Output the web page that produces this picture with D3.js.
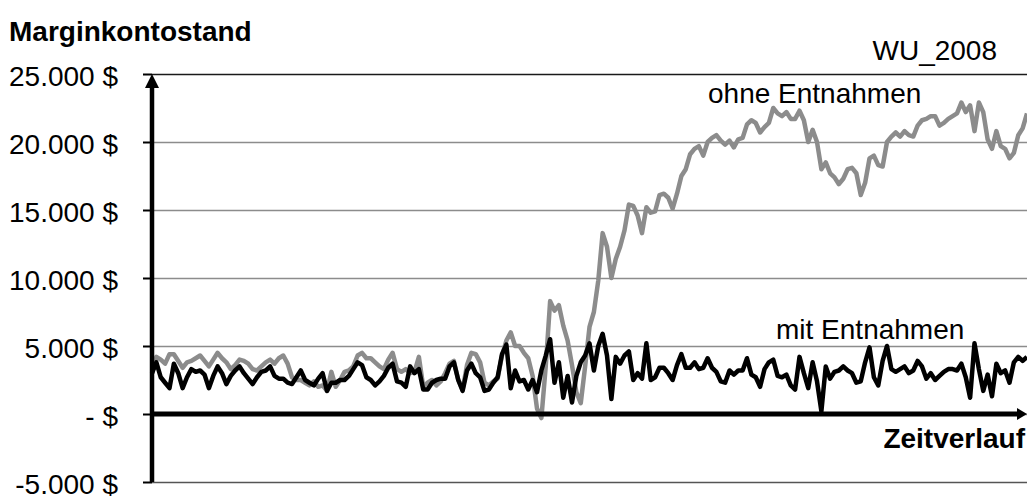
<!DOCTYPE html>
<html>
<head>
<meta charset="utf-8">
<script src="https://cdn.jsdelivr.net/npm/d3@7"></script>
<style>
  html, body { margin: 0; padding: 0; background: #fff; }
  svg { display: block; font-family: "Liberation Sans", Arial, sans-serif; }
</style>
</head>
<body>
<svg id="chart" width="1027" height="496"></svg>
<script>
// Margin account balance over time, with and without withdrawals
const ohneEntnahmen = [
  3000, 4200, 4000, 3700, 4400, 4400, 3900, 3400, 3800, 3900,
  4100, 4300, 3900, 3500, 4000, 4500, 4100, 3800, 3300, 3600,
  4000, 3900, 3700, 3300, 3200, 3500, 3800, 4000, 3700, 4100,
  4300, 3700, 2700, 2500, 2500, 2300, 2100, 2400, 2000, 2100,
  1700, 3100, 2000, 2500, 3100, 3200, 3500, 4300, 4500, 4100,
  4100, 3800, 3500, 3300, 4000, 4500, 3300, 3100, 3300, 3000,
  3100, 4200, 2000, 2300, 2500, 2100, 2400, 3000, 3700, 3900,
  2500, 1800, 3600, 4500, 4400, 3800, 2300, 2100, 2400, 2600,
  4300, 5400, 6000, 5000, 5000, 4500, 4100, 2800, 400, -300,
  3500, 8300, 7600, 8000, 6500, 5400, 3600, 1600, 800, 3500,
  6400, 7500, 9800, 13300, 12300, 10000, 11400, 12300, 13500, 15400,
  15300, 14600, 13300, 15200, 14800, 14900, 16100, 16200, 15900, 15100,
  16200, 17500, 18000, 19100, 19500, 19700, 19000, 20000, 20300, 20500,
  20100, 19800, 20100, 19600, 20200, 20300, 21300, 21600, 21400, 20700,
  21100, 21400, 22500, 22100, 21900, 22200, 21700, 21700, 22300, 21600,
  20000, 20900, 20000, 18000, 18500, 17700, 17400, 16900, 17300, 18000,
  18100, 17700, 16100, 17000, 18800, 19000, 18300, 18200, 20000, 20400,
  20700, 20400, 20800, 20500, 20400, 21200, 21600, 21700, 21900, 21900,
  21200, 21400, 21700, 21900, 22100, 22900, 22200, 22700, 20800, 22900,
  22200, 20200, 19500, 20800, 19700, 19500, 18800, 19200, 20500, 21000,
  22100
];

const mitEntnahmen = [
  3000, 3800, 2700, 2300, 1900, 3700, 3000, 1900, 2700, 3300,
  3100, 3200, 2900, 1900, 2800, 3500, 3000, 2200, 2800, 3200,
  3500, 3000, 2600, 2200, 2700, 3100, 3200, 3500, 2800, 2600,
  2600, 2300, 2200, 2700, 3200, 2500, 2300, 2100, 2600, 3000,
  1700, 2300, 2300, 2500, 2500, 2800, 3300, 3800, 3600, 2700,
  2500, 2100, 2400, 2800, 3400, 3700, 2400, 2300, 2000, 3500,
  3000, 3300, 1800, 1800, 2300, 2500, 2600, 2600, 3500, 3800,
  2500, 1700, 3200, 3700, 3000, 2700, 1700, 1800, 2300, 2700,
  4400, 5100, 1900, 3200, 2400, 2500, 1800, 2500, 1600, 3200,
  4300, 5500, 2300, 3800, 1200, 2800, 850, 2800, 3800, 4300,
  5200, 3200, 5000, 5900, 4300, 1100, 4200, 3700, 4300, 4600,
  2500, 3000, 2600, 5200, 2500, 2700, 3400, 3400, 3000, 2500,
  3600, 4400, 3400, 3400, 3800, 3300, 3400, 4100, 3400, 3100,
  2400, 2300, 3200, 2900, 3200, 3200, 4100, 2900, 2700, 2000,
  3300, 3800, 4000, 2800, 2700, 2900, 2100, 1800, 4200, 3000,
  1900, 3800, 2400, 200, 3500, 2600, 3100, 3200, 3500, 3200,
  3000, 2300, 2400, 3800, 4900, 2700, 2100, 3900, 5000, 3300,
  3100, 3300, 3500, 3000, 3200, 3900, 3500, 2600, 3000, 2500,
  2800, 3100, 3300, 3300, 3200, 3700, 2700, 1200, 5200, 3300,
  1700, 2900, 1300, 3700, 3000, 3200, 2300, 3800, 4200, 3900,
  4200
];

const yTickValues = [25000, 20000, 15000, 10000, 5000, 0, -5000];
const yTickLabels = ["25.000 $", "20.000 $", "15.000 $", "10.000 $", "5.000 $", "- $", "-5.000 $"];

const svg = d3.select("#chart");
const plot = { left: 152, right: 1027, top: 74, bottom: 482 };

const x = d3.scaleLinear()
  .domain([0, ohneEntnahmen.length - 1])
  .range([plot.left, plot.right]);

const y = d3.scaleLinear()
  .domain([-5000, 25000])
  .range([plot.bottom, plot.top]);

// Horizontal gridlines
const grid = svg.append("g")
  .attr("transform", `translate(${plot.left},0)`)
  .call(d3.axisLeft(y)
    .tickValues(yTickValues)
    .tickSize(-(plot.right - plot.left))
    .tickFormat(""));
grid.select(".domain").remove();
grid.selectAll(".tick line")
  .attr("stroke", d => (d === 25000 ? "#1a1a1a" : d === -5000 ? "#555" : "#8c8c8c"))
  .attr("stroke-width", 1.6);

// Y axis with tick labels
const yAxis = svg.append("g")
  .attr("transform", `translate(${plot.left},0)`)
  .call(d3.axisLeft(y)
    .tickValues(yTickValues)
    .tickSize(9)
    .tickPadding(25)
    .tickFormat((d, i) => yTickLabels[i]));
yAxis.select(".domain").remove();
yAxis.selectAll(".tick line").attr("stroke", "#000").attr("stroke-width", 2);
yAxis.selectAll(".tick text")
  .attr("font-size", 28)
  .attr("fill", "#000")
  .attr("dy", "0.40em");

// Series lines
const line = d3.line()
  .x((d, i) => x(i))
  .y(d => y(d));

svg.append("path")
  .datum(ohneEntnahmen)
  .attr("fill", "none")
  .attr("stroke", "#8c8c8c")
  .attr("stroke-width", 4.5)
  .attr("stroke-linejoin", "round")
  .attr("d", line);

svg.append("path")
  .datum(mitEntnahmen)
  .attr("fill", "none")
  .attr("stroke", "#000")
  .attr("stroke-width", 4.5)
  .attr("stroke-linejoin", "round")
  .attr("d", line);

// Time axis (zero line) with arrow
const y0 = y(0);
svg.append("line")
  .attr("x1", plot.left).attr("x2", plot.right - 6)
  .attr("y1", y0).attr("y2", y0)
  .attr("stroke", "#000").attr("stroke-width", 5);
svg.append("path")
  .attr("d", `M${plot.right},${y0} L${plot.right - 10},${y0 - 6} L${plot.right - 10},${y0 + 6} Z`)
  .attr("fill", "#000");

// Value axis with arrow
svg.append("line")
  .attr("x1", plot.left).attr("x2", plot.left)
  .attr("y1", plot.bottom).attr("y2", plot.top + 12)
  .attr("stroke", "#000").attr("stroke-width", 4.5);
svg.append("path")
  .attr("d", `M${plot.left},${plot.top} L${plot.left - 7},${plot.top + 14} L${plot.left + 7},${plot.top + 14} Z`)
  .attr("fill", "#000");

// Titles and series labels
svg.append("text")
  .attr("x", 9).attr("y", 41)
  .attr("font-size", 28).attr("font-weight", "bold")
  .text("Marginkontostand");

svg.append("text")
  .attr("x", 997).attr("y", 60)
  .attr("text-anchor", "end")
  .attr("font-size", 28)
  .text("WU_2008");

svg.append("text")
  .attr("x", 708).attr("y", 103)
  .attr("font-size", 28)
  .text("ohne Entnahmen");

svg.append("text")
  .attr("x", 776).attr("y", 339)
  .attr("font-size", 28)
  .text("mit Entnahmen");

svg.append("text")
  .attr("x", 1025).attr("y", 448)
  .attr("text-anchor", "end")
  .attr("font-size", 28).attr("font-weight", "bold")
  .text("Zeitverlauf");
</script>
</body>
</html>
